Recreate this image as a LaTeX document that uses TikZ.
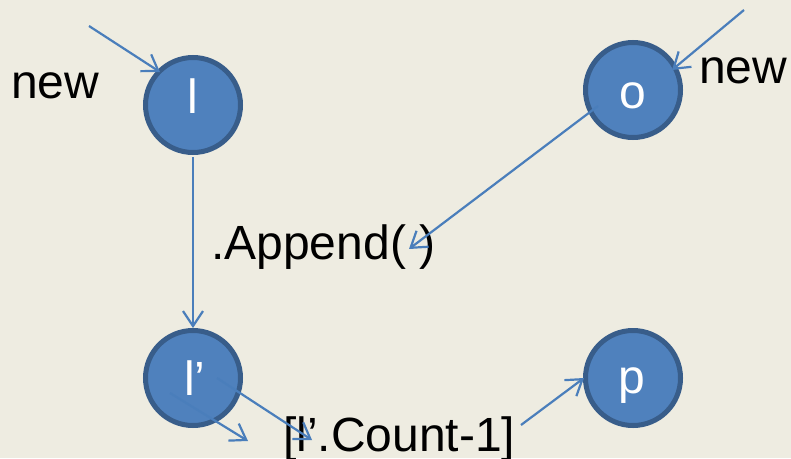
\documentclass[tikz,border=0pt]{standalone}
\usepackage{fontspec}
\setmainfont{Liberation Sans}
\usetikzlibrary{arrows.meta}
\definecolor{paper}{HTML}{EEECE1}
\definecolor{ballfill}{HTML}{4F81BD}
\definecolor{ballrim}{HTML}{385D8A}
\definecolor{wire}{HTML}{4A7EBB}
\tikzset{
  ball/.style={circle, fill=ballfill, draw=ballrim, line width=5pt,
    minimum size=95pt, inner sep=0pt},
  balltext/.style={text=white, font=\fontsize{48}{57}\selectfont,
    anchor=base, inner sep=0pt},
  label/.style={font=\fontsize{48}{57}\selectfont, anchor=base west, inner sep=0pt},
  link/.style={draw=wire, line width=2.2pt,
    -{Straight Barb[length=15pt,width=20pt,line width=2.2pt]}}
}
\begin{document}
\begin{tikzpicture}[x=1pt,y=-1pt]
  \fill[paper] (0,0) rectangle (791,458);
  \useasboundingbox (0,0) rectangle (791,458);

  % the four objects
  \node[ball] (l)  at (193,105) {};
  \node[ball] (o)  at (633,90)  {};
  \node[ball] (lp) at (193,378) {};
  \node[ball] (p)  at (633,378) {};
  \node[balltext] (tl)  at (193,113) {l};
  \node[balltext] (to)  at (633,108) {o};
  \node[balltext] (tlp) at (195,395) {l’};
  \node[balltext] (tp)  at (632,393) {p};

  % captions
  \node[label] (newl)   at (11,98)   {new};
  \node[label] (newr)   at (699,83)  {new};
  \node[label] (append) at (211,259) {.Append( )};
  \node[label] (count)  at (283,451) {[l’.Count-1]};

  % loose ends of the connectors
  \coordinate (a1) at (89,26);
  \coordinate (b1) at (160,72);
  \coordinate (a2) at (744,10);
  \coordinate (b2) at (672,70);
  \coordinate (a3) at (598,106);
  \coordinate (b3) at (409,249);
  \coordinate (a4) at (193,157);
  \coordinate (b4) at (193,328);
  \coordinate (a5) at (217,378);
  \coordinate (b5) at (312,440);
  \coordinate (a6) at (170,393);
  \coordinate (b6) at (248,441);
  \coordinate (a7) at (521,425);
  \coordinate (b7) at (584,378);

  \draw[link] (a1) -- (b1);
  \draw[link] (a2) -- (b2);
  \draw[link] (a3) -- (b3);
  \draw[link] (a4) -- (b4);
  \draw[link] (a5) -- (b5);
  \draw[link] (a6) -- (b6);
  \draw[link] (a7) -- (b7);
\end{tikzpicture}
\end{document}
